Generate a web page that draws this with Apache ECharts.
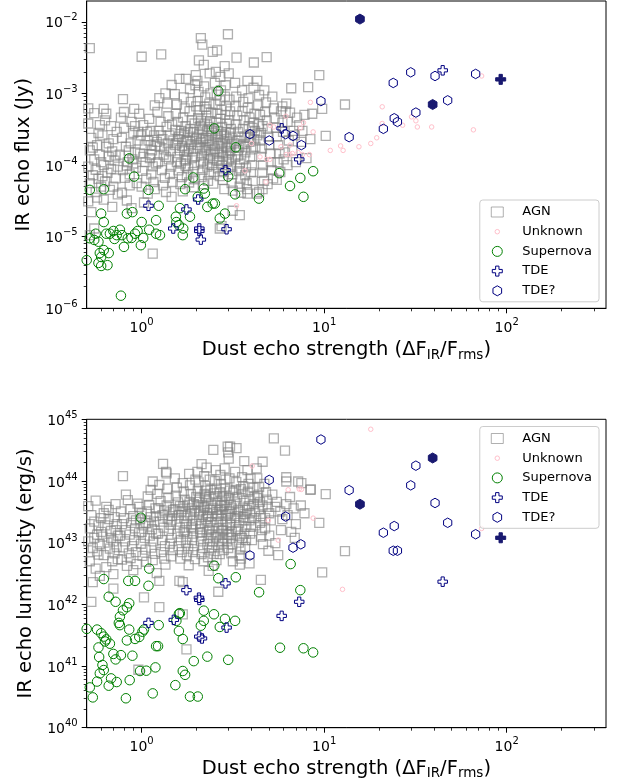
<!DOCTYPE html>
<html>
<head>
<meta charset="utf-8">
<script src="https://cdn.jsdelivr.net/npm/echarts@6/dist/echarts.min.js"></script>
<style>
html,body{margin:0;padding:0;background:#fff}
#chart{width:617px;height:783px}
</style>
</head>
<body>
<div id="chart"></div>
<script>
// ---- axis ranges and tick positions ----
const xRange = [0.5, 350];
const fluxRange = [1e-6, 0.0195];
const lumRange = [1e40, 1.000001e45];
const xTicks = [1, 10, 100];
const fluxTicks = [1e-6, 1e-5, 1e-4, 1e-3, 1e-2];
const lumTicks = [1e40, 1e41, 1e42, 1e43, 1e44, 1e45];
const legendNames = ['AGN', 'Unknown', 'Supernova', 'TDE', 'TDE?'];

// ---- IR echo flux (Jy) vs dust echo strength ----
const fluxAGN = [
[0.51,6.2e-4],[0.52,4.3e-3],[0.51,3.8e-4],[0.53,2.4e-4],[0.52,1.6e-4],[0.55,1.2e-4],[0.51,9.5e-5],[0.54,7.2e-5],[0.52,5.6e-5],[0.56,4.2e-5],[0.51,3.1e-5],[0.53,2.2e-5],[0.58,2.8e-4],[0.57,1.9e-4],[0.59,1.4e-4],[0.56,8.6e-5],[0.58,6.4e-5],[0.6,5.0e-5],[0.57,3.5e-5],[0.55,1.3e-5],[0.52,1.05e-5],[0.59,3.6e-4],[0.6,1.1e-4],[0.55,5.3e-4],[0.54,1.75e-4],
[0.62,6.1e-4],[0.63,4.2e-4],[0.61,2.6e-4],[0.64,1.8e-4],[0.66,1.3e-4],[0.62,1.0e-4],[0.65,7.8e-5],[0.63,5.9e-5],[0.67,4.5e-5],[0.62,3.3e-5],[0.68,3.5e-4],[0.7,2.3e-4],[0.69,1.55e-4],[0.71,1.15e-4],[0.68,8.8e-5],[0.72,6.5e-5],[0.7,5.0e-5],[0.74,3.9e-5],[0.73,2.9e-4],[0.66,2.0e-4],[0.72,1.35e-4],[0.64,5.2e-4],[0.74,9.5e-5],[0.61,7.0e-5],[0.69,2.6e-5],
[0.79,8.3e-4],[0.77,4.6e-4],[0.8,3.3e-4],[0.78,2.4e-4],[0.82,1.8e-4],[0.76,1.4e-4],[0.84,1.1e-4],[0.79,8.5e-5],[0.81,6.6e-5],[0.86,5.2e-5],[0.78,4.1e-5],[0.83,3.2e-5],[0.88,4.0e-4],[0.9,2.8e-4],[0.87,2.0e-4],[0.92,1.5e-4],[0.89,1.2e-4],[0.93,9.2e-5],[0.86,7.4e-5],[0.91,6.1e-4],[0.94,5.6e-5],[0.85,1.6e-4],[0.8,5.5e-4],[0.92,3.5e-4],[0.88,2.5e-5],[0.95,2.2e-4],[0.83,9.8e-5],[0.9,1.05e-4],
[1.0,3.25e-3],[0.97,5.2e-4],[1.02,3.6e-4],[0.99,2.6e-4],[1.04,1.9e-4],[0.98,1.45e-4],[1.05,1.1e-4],[1.01,8.3e-5],[1.06,6.5e-5],[1.0,5.0e-5],[1.08,4.0e-5],[1.1,4.4e-4],[1.12,3.0e-4],[1.09,2.2e-4],[1.14,1.6e-4],[1.11,1.25e-4],[1.15,9.6e-5],[1.13,7.4e-5],[1.16,5.8e-5],[1.18,6.8e-4],[1.17,2.6e-4],[1.19,1.85e-4],[1.15,5.8e-6],[1.03,3.0e-5],[1.12,1.4e-4],[1.07,2.9e-4],[1.2,1.05e-4],[1.18,4.6e-5],
[1.28,3.5e-3],[1.46,1.31e-3],[1.25,8.6e-4],[1.22,5.5e-4],[1.27,4.0e-4],[1.24,3.0e-4],[1.3,2.3e-4],[1.26,1.8e-4],[1.32,1.4e-4],[1.23,1.1e-4],[1.29,8.5e-5],[1.34,6.6e-5],[1.31,5.2e-5],[1.36,4.2e-5],[1.38,7.2e-4],[1.4,4.8e-4],[1.37,3.4e-4],[1.42,2.6e-4],[1.39,2.0e-4],[1.44,1.55e-4],[1.41,1.2e-4],[1.45,9.5e-5],[1.43,7.5e-5],[1.48,5.8e-5],[1.35,1.0e-3],[1.47,3.7e-4],[1.33,1.65e-4],[1.49,2.2e-4],[1.21,2.1e-4],[1.46,3.6e-5],
[1.61,1.6e-3],[1.75,1.6e-3],[1.98,1.8e-3],[1.52,9.8e-4],[1.56,7.0e-4],[1.54,5.2e-4],[1.58,4.0e-4],[1.53,3.1e-4],[1.6,2.5e-4],[1.55,2.0e-4],[1.62,1.6e-4],[1.57,1.3e-4],[1.64,1.05e-4],[1.59,8.4e-5],[1.66,6.8e-5],[1.63,5.4e-5],[1.68,4.3e-5],[1.7,8.8e-4],[1.72,6.2e-4],[1.69,4.6e-4],[1.74,3.5e-4],[1.71,2.8e-4],[1.76,2.2e-4],[1.73,1.75e-4],[1.78,1.4e-4],[1.75,1.15e-4],[1.8,9.0e-5],[1.77,7.2e-5],[1.82,5.7e-5],[1.84,1.15e-3],[1.86,7.6e-4],[1.83,5.6e-4],[1.88,4.2e-4],[1.85,3.2e-4],[1.9,2.5e-4],[1.87,1.95e-4],[1.92,1.55e-4],[1.89,1.25e-4],[1.94,1.0e-4],[1.91,8.0e-5],[1.96,6.3e-5],[1.93,4.9e-5],[1.97,1.3e-3],[1.99,6.6e-4],[1.95,3.8e-4],[1.98,2.3e-4],[1.65,3.0e-4],[1.79,2.9e-4],[1.58,2.3e-4],[1.67,1.85e-4],[1.81,1.7e-4],[1.72,1.2e-4],
[2.06,2.9e-3],[2.11,5.9e-3],[2.15,4.8e-3],[2.19,2.5e-3],[2.45,3.8e-3],[2.02,1.5e-3],[2.05,1.05e-3],[2.03,7.8e-4],[2.08,5.8e-4],[2.04,4.5e-4],[2.1,3.5e-4],[2.07,2.7e-4],[2.12,2.1e-4],[2.09,1.7e-4],[2.14,1.35e-4],[2.11,1.1e-4],[2.16,8.6e-5],[2.13,6.8e-5],[2.18,5.4e-5],[2.2,1.25e-3],[2.23,8.8e-4],[2.21,6.5e-4],[2.26,4.9e-4],[2.22,3.8e-4],[2.28,3.0e-4],[2.25,2.4e-4],[2.3,1.9e-4],[2.27,1.5e-4],[2.32,1.2e-4],[2.29,9.5e-5],[2.34,7.6e-5],[2.31,6.0e-5],[2.36,1.9e-3],[2.38,1.0e-3],[2.35,7.2e-4],[2.4,5.4e-4],[2.37,4.1e-4],[2.42,3.2e-4],[2.39,2.6e-4],[2.44,2.0e-4],[2.41,1.6e-4],[2.46,1.25e-4],[2.43,1.0e-4],[2.48,8.0e-5],[2.47,5.5e-5],[2.33,3.4e-4],[2.17,2.3e-4],[2.24,1.75e-4],[2.01,2.4e-4],[2.12,4.1e-4],
[2.59,4.0e-3],[2.97,6.7e-3],[2.55,2.0e-3],[2.52,1.4e-3],[2.58,9.6e-4],[2.54,7.0e-4],[2.6,5.2e-4],[2.56,3.9e-4],[2.62,3.0e-4],[2.57,2.35e-4],[2.64,1.85e-4],[2.6,1.45e-4],[2.66,1.15e-4],[2.63,9.0e-5],[2.68,7.0e-5],[2.7,1.7e-3],[2.72,1.1e-3],[2.69,8.0e-4],[2.74,5.9e-4],[2.71,4.4e-4],[2.76,3.4e-4],[2.73,2.7e-4],[2.78,2.1e-4],[2.75,1.65e-4],[2.8,1.3e-4],[2.77,1.0e-4],[2.82,8.0e-5],[2.79,6.2e-5],[2.85,2.4e-3],[2.88,1.3e-3],[2.86,9.0e-4],[2.9,6.6e-4],[2.87,5.0e-4],[2.92,3.8e-4],[2.89,2.9e-4],[2.94,2.3e-4],[2.91,1.8e-4],[2.96,1.4e-4],[2.93,1.1e-4],[2.98,8.6e-5],[3.0,1.9e-3],[3.03,8.2e-4],[3.05,5.6e-4],[3.02,4.2e-4],[3.08,3.2e-4],[3.04,2.5e-4],[3.1,1.95e-4],[3.06,1.55e-4],[3.12,1.2e-4],[3.09,9.4e-5],[3.14,7.4e-5],[3.11,5.6e-5],[3.16,4.4e-5],[3.15,2.3e-5],[2.84,4.6e-5],
[3.31,3.15e-3],[4.12,2.7e-3],[3.25,1.4e-3],[3.3,9.0e-4],[3.28,6.6e-4],[3.34,4.9e-4],[3.3,3.7e-4],[3.38,2.9e-4],[3.35,2.2e-4],[3.42,1.75e-4],[3.38,1.35e-4],[3.45,1.05e-4],[3.41,8.2e-5],[3.48,6.4e-5],[3.44,5.0e-5],[3.55,1.1e-3],[3.6,7.6e-4],[3.57,5.6e-4],[3.63,4.2e-4],[3.59,3.2e-4],[3.66,2.5e-4],[3.62,1.95e-4],[3.7,1.5e-4],[3.65,1.2e-4],[3.73,9.3e-5],[3.69,7.2e-5],[3.76,5.6e-5],[3.8,1.5e-3],[3.85,8.6e-4],[3.82,6.3e-4],[3.9,4.6e-4],[3.86,3.5e-4],[3.94,2.7e-4],[3.9,2.1e-4],[3.98,1.65e-4],[3.93,1.3e-4],[4.02,1.0e-4],[3.97,7.9e-5],[4.06,6.0e-5],[4.1,1.2e-3],[4.15,5.2e-4],[4.12,3.9e-4],[4.18,3.0e-4],[4.14,2.3e-4],[3.5,4.1e-5],[3.78,4.6e-5],[4.2,1.8e-4],
[4.84,3.2e-3],[4.3,1.5e-3],[4.4,9.5e-4],[4.35,6.8e-4],[4.45,5.0e-4],[4.4,3.7e-4],[4.5,2.8e-4],[4.46,2.2e-4],[4.56,1.7e-4],[4.52,1.3e-4],[4.62,1.0e-4],[4.58,7.8e-5],[4.68,6.0e-5],[4.7,1.1e-3],[4.8,7.5e-4],[4.75,5.5e-4],[4.85,4.2e-4],[4.9,3.2e-4],[4.95,2.5e-4],[5.0,1.9e-4],[5.05,1.45e-4],[5.1,1.1e-4],[5.15,8.5e-5],[5.2,9.0e-4],[5.3,6.2e-4],[5.35,4.5e-4],[5.45,3.3e-4],[5.5,2.5e-4],[5.6,1.9e-4],[5.7,1.45e-4],[5.55,1.1e-4],[5.8,5.6e-4],[5.9,3.9e-4],[5.95,2.9e-4],[5.75,8.0e-5],[6.0,1.2e-4],[4.28,4.0e-5],[4.6,4.6e-5],[5.25,6.5e-5],[4.9,5.4e-5],
[6.6,1.18e-3],[8.17,1.22e-3],[9.4,1.8e-3],[9.75,6.1e-4],[13.0,7.0e-4],[10.2,2.55e-4],[8.4,2.3e-4],[7.5,2.1e-4],[6.2,7.2e-4],[6.5,5.4e-4],[6.3,4.0e-4],[6.8,3.0e-4],[7.1,4.6e-4],[6.4,2.2e-4],[6.7,1.6e-4],[7.3,3.6e-4],[7.8,5.0e-4],[6.1,1.5e-4],[6.9,2.6e-4],[8.0,1.25e-4],[6.3,1.0e-4],[7.0,1.1e-4],[7.6,3.0e-4],[8.6,5.2e-4],[6.15,5.6e-4],[5.9,6.6e-4],
[2.68,1.3e-5],[3.45,2.0e-5],[2.74,1.4e-5],[5.5,6.2e-5],[4.4,4.2e-5],[3.8,4.0e-5],
[1.52,1.9e-4],[1.63,2.7e-4],[1.71,1.55e-4],[1.84,2.1e-4],[1.93,2.9e-4],[2.02,1.9e-4],[2.15,3.2e-4],[2.21,1.6e-4],[2.34,2.2e-4],[2.44,2.8e-4],[2.52,1.7e-4],[2.61,2.5e-4],[2.7,2.0e-4],[2.83,2.6e-4],[2.95,1.75e-4],[3.07,2.8e-4],[3.2,2.0e-4],[3.36,1.6e-4],[3.52,2.5e-4],[3.68,1.8e-4],[1.56,1.1e-4],[1.74,9.8e-5],[1.96,1.3e-4],[2.18,1.05e-4],[2.38,1.4e-4],[2.58,1.15e-4],[2.78,1.5e-4],[3.0,1.2e-4],[3.25,1.3e-4],[3.46,9.0e-5],[1.28,2.6e-4],[1.36,1.3e-4],[1.12,1.9e-4],[1.02,1.3e-4],[0.96,2.9e-4],[3.85,2.4e-4],[4.05,3.3e-4],[4.3,2.6e-4],[4.6,3.5e-4],[2.26,6.0e-4]
];
const fluxUnknown = [
[72.9,1.75e-3],[8.4,7.5e-4],[20.8,6.5e-4],[30.1,4.7e-4],[31.8,4.15e-4],[32.4,3.4e-4],[26.9,3.6e-4],[20.8,3.8e-4],[38.8,3.4e-4],[65.7,3.1e-4],[19.4,2.4e-4],[18.0,2.0e-4],[15.5,1.8e-4],[12.3,1.85e-4],[12.7,1.6e-4],[10.8,1.6e-4],[8.7,2.9e-4],[7.7,3.9e-4],[7.4,3.3e-4],[8.3,1.4e-4],[7.6,1.4e-4],[6.17,4.8e-4],[5.04,3.6e-4],[5.3,3.4e-4],[4.0,2.0e-4],[5.8,1.8e-4],[6.5,1.9e-4],[6.7,1.45e-4],[7.2,1.5e-4],[4.45,1.3e-4],[4.84,1.2e-4],[4.8,5.8e-5],[3.68,8.3e-5],[3.31,2.7e-5],[6.2,1.4e-4],[5.04,1.2e-4],[6.5,1.4e-4]
];
const fluxSupernova = [
[2.63,1.08e-3],[2.5,3.25e-4],[3.28,1.77e-4],[0.855,1.24e-4],[0.91,6.9e-5],[1.92,6.7e-5],[2.98,6.9e-5],[0.52,4.5e-5],[0.62,4.6e-5],[1.09,4.5e-5],[1.73,4.6e-5],[2.19,4.7e-5],[2.22,4.0e-5],[2.03,3.6e-5],[3.25,3.9e-5],[4.39,3.4e-5],[2.52,2.9e-5],[2.29,2.6e-5],[1.62,2.5e-5],[1.24,2.7e-5],[0.6,2.1e-5],[0.83,2.1e-5],[0.89,2.2e-5],[1.54,1.9e-5],[1.84,1.9e-5],[2.86,2.1e-5],[2.68,1.8e-5],[0.62,1.6e-5],[1.0,1.6e-5],[1.2,1.7e-5],[1.55,1.6e-5],[1.6,1.45e-5],[1.69,1.3e-5],[0.52,9.5e-6],[0.55,9e-6],[0.64,1.1e-5],[0.67,1.1e-5],[0.7,1.2e-5],[0.73,1.05e-5],[0.76,1.25e-5],[0.78,1.05e-5],[0.88,9.6e-6],[0.92,1.1e-5],[0.95,1.2e-5],[1.02,9.6e-6],[0.99,7.6e-6],[1.1,1.25e-5],[1.2,1.1e-5],[1.26,1.05e-5],[1.68,1.05e-5],[0.8,7.2e-6],[0.84,9.5e-6],[0.71,9.3e-6],[0.59,5.9e-6],[0.66,5.9e-6],[0.6,5.2e-6],[0.58,4.3e-6],[0.65,4.0e-6],[0.6,3.9e-6],[0.5,4.7e-6],[0.77,1.5e-6],[5.67,7.7e-5],[6.5,5.1e-5],[7.4,6.6e-5],[7.7,3.6e-5],[8.7,8.2e-5],[2.45,2.9e-5],[0.62,6.5e-6],[0.56,1.1e-5],[0.58,8.5e-6]
];
const fluxTDE = [
[5.85,3.25e-4],[7.3,1.2e-4],[2.88,8.5e-5],[2.04,3.3e-5],[1.76,2.4e-5],[1.09,2.7e-5],[1.49,1.3e-5],[2.07,1.3e-5],[2.07,1.2e-5],[2.11,9.1e-6],[2.92,1.27e-5],[44.6,2.1e-3]
];
const fluxTDEFilled = [[92.7,1.57e-3]];
const fluxTDEq = [
[29.8,1.97e-3],[40.5,1.75e-3],[67.6,1.87e-3],[23.9,1.4e-3],[9.6,7.8e-4],[47.5,8.0e-4],[31.8,5.4e-4],[24.2,4.5e-4],[25.2,4.0e-4],[21.1,3.2e-4],[13.7,2.45e-4],[7.5,1.9e-4],[3.92,2.7e-4],[5.0,2.2e-4],[6.15,2.7e-4],[6.75,2.55e-4]
];
const fluxTDEqFilled = [[15.7,1.09e-2],[39.3,7.0e-4]];

// ---- IR echo luminosity (erg/s) vs dust echo strength ----
const lumAGN = [
[0.56,4.8e43],[0.51,3.9e43],[0.53,2.8e43],[0.55,2.2e43],[0.52,1.7e43],[0.57,1.35e43],[0.51,1.05e43],[0.54,8.2e42],[0.58,6.4e42],[0.52,5.0e42],[0.56,3.8e42],[0.59,2.9e42],[0.54,2.3e42],[0.53,1.1e42],[0.58,1.9e43],[0.6,1.5e43],[0.55,1.2e43],[0.59,9.5e42],[0.57,7.2e42],[0.6,2.5e43],
[0.64,3.8e43],[0.62,3.0e43],[0.66,2.4e43],[0.63,1.9e43],[0.68,1.55e43],[0.61,1.25e43],[0.65,1.0e43],[0.67,8.0e42],[0.62,6.3e42],[0.69,5.0e42],[0.64,4.0e42],[0.7,3.1e42],[0.7,1.8e42],[0.71,2.6e43],[0.73,2.0e43],[0.72,1.6e43],[0.74,1.3e43],[0.7,1.05e43],[0.73,8.5e42],[0.71,6.7e42],[0.74,5.4e42],[0.66,3.4e43],[0.72,4.2e43],[0.68,1.2e43],
[0.79,1.2e44],[0.84,4.9e43],[0.77,3.2e43],[0.8,2.5e43],[0.78,2.0e43],[0.82,1.6e43],[0.76,1.3e43],[0.81,1.05e43],[0.79,8.4e42],[0.85,6.7e42],[0.78,5.3e42],[0.83,4.2e42],[0.87,3.5e43],[0.9,2.7e43],[0.88,2.1e43],[0.92,1.7e43],[0.86,1.35e43],[0.91,1.1e43],[0.89,8.8e42],[0.93,7.0e42],[0.87,5.6e42],[0.94,4.5e42],[0.9,3.6e42],[0.95,4.3e43],[0.82,6.0e43],[0.93,2.3e43],
[1.03,1.3e42],[1.15,9.8e43],[1.12,7.2e43],[0.97,3.8e43],[1.0,3.0e43],[0.98,2.4e43],[1.02,1.9e43],[1.0,1.5e43],[1.04,1.2e43],[0.99,9.6e42],[1.05,7.7e42],[1.01,6.1e42],[1.06,4.9e42],[1.08,5.6e43],[1.1,4.1e43],[1.07,3.2e43],[1.12,2.6e43],[1.09,2.05e43],[1.14,1.65e43],[1.11,1.3e43],[1.16,1.05e43],[1.13,8.3e42],[1.18,6.6e42],[1.15,5.2e42],[1.19,3.6e43],[1.17,2.2e43],[1.2,1.4e43],[0.96,8.7e40],
[1.25,8.6e43],[1.31,1.9e44],[1.37,1.33e44],[1.36,1.4e44],[1.25,2.4e42],[1.25,9e41],[1.22,6.2e43],[1.27,4.7e43],[1.24,3.6e43],[1.3,2.8e43],[1.26,2.2e43],[1.32,1.75e43],[1.23,1.4e43],[1.29,1.1e43],[1.34,8.8e42],[1.28,7.0e42],[1.33,5.5e42],[1.35,4.4e42],[1.38,7.5e43],[1.4,5.3e43],[1.37,4.0e43],[1.42,3.1e43],[1.39,2.45e43],[1.44,1.95e43],[1.41,1.55e43],[1.46,1.2e43],[1.43,9.6e42],[1.48,7.6e42],[1.45,6.0e42],[1.49,3.4e43],[1.47,2.7e43],[1.21,3.2e42],
[1.68,9.2e43],[1.68,2.3e42],[1.68,6.9e41],[1.76,1.86e41],[1.52,1.1e44],[1.56,7.8e43],[1.54,5.8e43],[1.58,4.5e43],[1.53,3.5e43],[1.6,2.8e43],[1.55,2.2e43],[1.62,1.75e43],[1.57,1.4e43],[1.64,1.1e43],[1.59,8.8e42],[1.66,7.0e42],[1.63,5.5e42],[1.7,6.8e43],[1.72,5.0e43],[1.69,3.9e43],[1.74,3.1e43],[1.71,2.5e43],[1.76,2.0e43],[1.73,1.6e43],[1.78,1.25e43],[1.75,1.0e43],[1.8,8.0e42],[1.77,6.3e42],[1.82,1.3e44],[1.84,8.5e43],[1.86,6.2e43],[1.83,4.6e43],[1.88,3.6e43],[1.85,2.85e43],[1.9,2.25e43],[1.87,1.8e43],[1.92,1.4e43],[1.89,1.1e43],[1.94,8.8e42],[1.91,7.0e42],[1.96,5.4e42],[1.97,1.05e44],[1.99,5.5e43],[1.95,3.3e43],[1.98,2.0e43],[1.65,3.2e43],[1.79,4.1e43],[1.61,2.4e42],[1.81,4.3e42],
[2.13,1.87e44],[2.27,1.65e44],[2.47,3.2e44],[2.02,1.4e44],[2.05,9.5e43],[2.03,7.0e43],[2.08,5.3e43],[2.04,4.1e43],[2.1,3.3e43],[2.07,2.6e43],[2.12,2.05e43],[2.09,1.65e43],[2.14,1.3e43],[2.11,1.05e43],[2.16,8.2e42],[2.13,6.5e42],[2.18,5.0e42],[2.2,1.2e44],[2.23,8.3e43],[2.21,6.2e43],[2.26,4.8e43],[2.22,3.8e43],[2.28,3.0e43],[2.25,2.4e43],[2.3,1.9e43],[2.27,1.5e43],[2.32,1.2e43],[2.29,9.5e42],[2.34,7.5e42],[2.31,5.8e42],[2.36,1.05e44],[2.38,7.2e43],[2.35,5.5e43],[2.4,4.3e43],[2.37,3.4e43],[2.42,2.7e43],[2.39,2.15e43],[2.44,1.7e43],[2.41,1.35e43],[2.46,1.05e43],[2.43,8.4e42],[2.48,6.6e42],[2.33,3.5e42],[2.17,2.8e43],[2.06,4.6e43],[2.24,5.6e43],[2.45,4.2e42],
[2.96,3.6e44],[3.05,3.6e44],[2.98,2.9e44],[2.63,1.6e42],[2.57,5.2e42],[2.55,1.5e44],[2.52,1.0e44],[2.58,7.5e43],[2.54,5.7e43],[2.6,4.4e43],[2.56,3.4e43],[2.62,2.7e43],[2.57,2.15e43],[2.64,1.7e43],[2.6,1.35e43],[2.66,1.05e43],[2.63,8.4e42],[2.68,6.5e42],[2.7,1.25e44],[2.72,8.8e43],[2.69,6.6e43],[2.74,5.0e43],[2.71,3.9e43],[2.76,3.1e43],[2.73,2.45e43],[2.78,1.95e43],[2.75,1.55e43],[2.8,1.2e43],[2.77,9.6e42],[2.82,7.6e42],[2.85,1.6e44],[2.88,1.05e44],[2.86,7.6e43],[2.9,5.8e43],[2.87,4.5e43],[2.92,3.5e43],[2.89,2.75e43],[2.94,2.15e43],[2.91,1.7e43],[2.96,1.35e43],[2.93,1.05e43],[2.98,8.2e42],[3.0,2.3e44],[3.03,1.1e44],[3.05,7.0e43],[3.02,5.3e43],[3.08,4.1e43],[3.04,3.2e43],[3.1,2.5e43],[3.06,1.95e43],[3.12,1.5e43],[3.09,1.2e43],[3.14,9.4e42],[3.1,6.7e42],[3.16,5.0e42],
[3.31,3.4e44],[3.65,2.1e44],[3.45,4.4e42],[3.9,4.6e42],[3.25,1.4e44],[3.3,9.6e43],[3.28,7.2e43],[3.34,5.5e43],[3.3,4.3e43],[3.38,3.4e43],[3.35,2.7e43],[3.42,2.1e43],[3.38,1.65e43],[3.45,1.3e43],[3.41,1.0e43],[3.48,8.0e42],[3.44,6.2e42],[3.55,1.15e44],[3.6,8.2e43],[3.57,6.2e43],[3.63,4.8e43],[3.59,3.7e43],[3.66,2.9e43],[3.62,2.3e43],[3.7,1.8e43],[3.65,1.4e43],[3.73,1.1e43],[3.69,8.5e42],[3.8,1.5e44],[3.85,9.0e43],[3.82,6.7e43],[3.9,5.1e43],[3.86,3.9e43],[3.94,3.0e43],[3.9,2.3e43],[3.98,1.8e43],[3.93,1.4e43],[4.02,1.1e43],[4.1,7.8e43],[4.15,5.6e43],[4.12,4.2e43],[4.18,3.2e43],[4.14,2.5e43],[4.2,1.9e43],[3.5,5.5e42],
[5.3,4.9e44],[6.1,3.1e44],[4.6,2.05e44],[4.27,1.6e44],[6.2,1.15e44],[4.5,2.5e42],[4.3,1.1e44],[4.4,8.0e43],[4.35,6.0e43],[4.45,4.6e43],[4.4,3.5e43],[4.5,2.7e43],[4.46,2.1e43],[4.56,1.6e43],[4.52,1.25e43],[4.62,9.5e42],[4.7,9.0e43],[4.8,6.6e43],[4.75,2.5e43],[4.75,1.7e43],[4.85,5.0e43],[4.9,3.8e43],[5.0,3.0e43],[5.1,2.3e43],[5.2,6.0e43],[5.4,3.8e43],[5.75,3.2e43],[5.8,1.6e43],[5.4,9.8e42],[5.6,6.3e42],[5.5,4.6e43],[5.9,2.4e43],[6.2,9.8e43],[5.0,1.3e43],[4.95,7.4e42],
[7.2,9.8e43],[7.5,9.2e43],[8.45,7.3e43],[10.2,6.1e43],[7.45,4.0e43],[9.4,2.1e43],[9.75,3.3e42],[13.0,7.3e42],[8.4,7.2e43],[6.5,5.5e43],[6.8,3.6e43],[6.3,2.8e43],[7.0,2.0e43],[6.6,1.5e43],[6.2,4.2e43],[7.8,3.0e43],[6.9,1.2e43],
[1.62,3.9e43],[1.78,2.7e43],[1.93,4.2e43],[2.06,3.1e43],[2.19,3.7e43],[2.31,2.6e43],[2.45,3.6e43],[2.58,2.9e43],[2.7,3.4e43],[2.83,4.0e43],[2.97,2.9e43],[3.12,3.6e43],[3.27,2.5e43],[3.44,3.2e43],[3.6,2.6e43],[3.78,3.4e43],[1.7,1.5e43],[1.9,1.7e43],[2.1,1.45e43],[2.35,1.6e43],[2.55,1.25e43],[2.8,1.6e43],[3.02,1.35e43],[3.3,1.55e43],[3.55,1.2e43],[1.46,2.3e43],[1.33,3.3e43],[1.2,2.7e43],[1.06,2.1e43],[0.97,1.45e43],[2.25,7.0e43],[2.5,6.3e43],[2.77,5.7e43],[3.17,6.5e43],[3.5,7.4e43],[3.95,1.1e44],[4.3,5.3e43],[4.6,4.0e43]
];
const lumUnknown = [
[18.0,6.9e44],[12.6,1.75e42],[8.7,2.5e43],[72.9,1.7e43],[7.5,7.3e43],[4.03,1.75e44],[4.94,2.3e43],[5.6,1.1e43],[6.35,7.2e43],[7.3,7.4e43]
];
const lumSupernova = [
[0.99,2.54e43],[2.5,4.24e42],[1.1,3.8e42],[6.55,4.5e42],[0.62,2.57e42],[0.845,2.4e42],[0.92,2.4e42],[2.63,2.65e42],[3.28,2.75e42],[1.09,2.0e42],[4.4,1.57e42],[7.4,1.7e42],[0.66,1.33e42],[0.72,1.1e42],[0.855,1.04e42],[0.83,9e41],[0.79,8e41],[0.76,6.3e41],[0.75,5e41],[0.76,4.6e41],[1.62,7.2e41],[2.19,7.9e41],[2.49,6.9e41],[2.86,5.8e41],[3.25,5.4e41],[2.68,4.3e41],[2.19,5.4e41],[2.11,4.5e41],[1.24,4.6e41],[1.6,3.7e41],[1.68,2.74e41],[0.5,4e41],[0.57,3.9e41],[0.6,3.4e41],[0.62,3.0e41],[0.63,2.5e41],[0.64,2.7e41],[0.67,2.3e41],[0.58,2.0e41],[0.585,1.4e41],[0.61,1.04e41],[0.62,8.6e40],[0.59,7.6e40],[0.57,5.6e40],[0.52,4.5e40],[0.54,3.1e40],[0.66,4.8e40],[0.73,5.5e40],[0.68,6.3e40],[0.72,1.28e41],[0.7,1.57e41],[0.77,1.5e41],[0.89,1.47e41],[0.86,5.9e40],[0.82,3.0e40],[0.98,8.3e40],[1.06,8.4e40],[1.19,9.5e40],[1.2,2.1e41],[1.23,2.1e41],[1.15,3.6e40],[1.53,4.9e40],[1.68,8.3e40],[1.73,7.2e40],[1.84,3.2e40],[2.03,3.2e40],[1.93,1.2e41],[2.29,1.42e41],[2.98,1.26e41],[1.55,5.4e41],[1.6,7e41],[0.97,2.96e41],[1.03,3.9e41],[1.01,3.6e41],[0.92,2.75e41],[0.83,2.6e41],[0.855,3.9e41],[5.73,1.98e41],[7.7,1.94e41],[8.7,1.66e41]
];
const lumTDE = [
[44.6,2.33e42],[2.88,2.19e42],[1.76,1.7e42],[2.06,1.28e42],[2.07,1.18e42],[7.3,1.1e42],[5.85,6.5e41],[1.09,5e41],[1.5,5.6e41],[2.92,4.2e41],[2.07,3.0e41],[2.14,2.8e41]
];
const lumTDEFilled = [[92.7,1.2e43]];
const lumTDEq = [
[9.6,4.7e44],[31.8,1.77e44],[13.7,7.1e43],[29.8,8.5e43],[40.5,4.4e43],[47.5,2.1e43],[24.2,1.86e43],[21.1,1.45e43],[67.6,1.37e43],[23.9,7.4e42],[25.2,7.4e42],[7.45,9.4e42],[6.75,8.3e42],[5.0,1.04e44],[6.15,2.65e43],[3.92,6.2e42]
];
const lumTDEqFilled = [[39.3,2.36e44],[15.7,4.2e43]];

// ---- marker shapes ----
const PLUS = 'path://M1,0L2,0L2,1L3,1L3,2L2,2L2,3L1,3L1,2L0,2L0,1L1,1Z';
const HEX = 'path://M50,0L93.3,25L93.3,75L50,100L6.7,75L6.7,25Z';
const SMALL_RING = 'path://M0,0M20,20M14.5,10A4.5,4.5,0,1,1,5.5,10A4.5,4.5,0,1,1,14.5,10Z';
const FONT = 'DejaVu Sans';

const styles = {
  AGN:       { symbol: 'rect', symbolSize: 9, stroke: 'rgba(128,128,128,0.62)', fill: 'rgba(0,0,0,0)', width: 1.3 },
  Unknown:   { symbol: 'circle', symbolSize: 4.5, stroke: '#ffc0cb', fill: 'rgba(0,0,0,0)', width: 1 },
  Supernova: { symbol: 'circle', symbolSize: 9.5, stroke: '#008000', fill: 'rgba(0,0,0,0)', width: 1 },
  TDE:       { symbol: PLUS, symbolSize: 9.5, stroke: '#000080', fill: 'rgba(0,0,0,0)', width: 1 },
  'TDE?':    { symbol: HEX, symbolSize: 9.5, stroke: '#000080', fill: 'rgba(0,0,0,0)', width: 1 },
  tdeFilled: { symbol: PLUS, symbolSize: 10, stroke: '#191970', fill: '#191970', width: 1 },
  tdeqFilled:{ symbol: HEX, symbolSize: 10, stroke: '#191970', fill: '#191970', width: 1 }
};

function scatter(name, styleKey, data, idx) {
  const s = styles[styleKey];
  return {
    type: 'scatter', name: name, data: data,
    xAxisIndex: idx, yAxisIndex: idx,
    symbol: s.symbol, symbolSize: s.symbolSize, symbolKeepAspect: true,
    itemStyle: { color: s.fill, borderColor: s.stroke, borderWidth: s.width, opacity: 1 },
    emphasis: { disabled: true },
    silent: true
  };
}

function powLabel(v) {
  const e = Math.round(Math.log10(v));
  return '{b|10}{s|' + (e < 0 ? '\u2212' : '') + Math.abs(e) + '}';
}
const tickRich = {
  b: { fontFamily: FONT, fontSize: 14, lineHeight: 18, verticalAlign: 'bottom', color: '#000' },
  s: { fontFamily: FONT, fontSize: 10, lineHeight: 10, verticalAlign: 'top', color: '#000' }
};
const nameRich = {
  n: { fontFamily: FONT, fontSize: 19.5, lineHeight: 24, color: '#000' },
  u: { fontFamily: FONT, fontSize: 13.5, lineHeight: 14, verticalAlign: 'bottom', color: '#000' }
};

function logAxis(idx, range, ticks, extra) {
  return Object.assign({
    type: 'log', logBase: 10, gridIndex: idx, min: range[0], max: range[1],
    axisLine: { show: true, lineStyle: { color: '#000', width: 1 } },
    axisTick: { show: true, length: 5, customValues: ticks, lineStyle: { color: '#000', width: 1 } },
    minorTick: { show: true, splitNumber: 9, length: 3, lineStyle: { color: '#000', width: 0.8 } },
    axisLabel: { customValues: ticks, formatter: powLabel, margin: 9, rich: tickRich, color: '#000' },
    splitLine: { show: false },
    minorSplitLine: { show: false }
  }, extra);
}

const xName = '{n|Dust echo strength (\u0394F}{u|IR}{n|/F}{u|rms}{n|)}';

const option = {
  animation: false,
  backgroundColor: '#fff',
  textStyle: { fontFamily: FONT },
  grid: [
    { left: 86.7, top: 1, width: 519.3, height: 307.3, show: true, borderColor: '#000', borderWidth: 1, containLabel: false },
    { left: 86.7, top: 419.3, width: 519.3, height: 308.4, show: true, borderColor: '#000', borderWidth: 1, containLabel: false }
  ],
  xAxis: [
    logAxis(0, xRange, xTicks, { name: xName, nameLocation: 'middle', nameGap: 30, nameTextStyle: { rich: nameRich } }),
    logAxis(1, xRange, xTicks, { name: xName, nameLocation: 'middle', nameGap: 29, nameTextStyle: { rich: nameRich } })
  ],
  yAxis: [
    logAxis(0, fluxRange, fluxTicks, { name: 'IR echo flux (Jy)', nameLocation: 'middle', nameGap: 50,
      nameTextStyle: { fontFamily: FONT, fontSize: 19.5, color: '#000' } }),
    logAxis(1, lumRange, lumTicks, { name: 'IR echo luminosity (erg/s)', nameLocation: 'middle', nameGap: 51,
      nameTextStyle: { fontFamily: FONT, fontSize: 19.5, color: '#000' } })
  ],
  legend: [0, 1].map(function (i) {
    return {
      orient: 'vertical', right: 18, top: i === 0 ? 200 : 426.5,
      data: legendNames.map(function (n) { return n === 'Unknown' ? { name: n, icon: SMALL_RING } : n; }),
      selectedMode: false,
      itemWidth: 12, itemHeight: 10, itemGap: 5.7,
      padding: [5, 7, 4, 11],
      itemStyle: { borderWidth: 1 },
      backgroundColor: 'rgba(255,255,255,0.8)', borderColor: '#cccccc', borderWidth: 1, borderRadius: 3,
      textStyle: { fontFamily: FONT, fontSize: 13, color: '#000', lineHeight: 14, padding: [0, 0, 0, 14] }
    };
  }),
  series: [
    scatter('AGN', 'AGN', fluxAGN, 0),
    scatter('Unknown', 'Unknown', fluxUnknown, 0),
    scatter('Supernova', 'Supernova', fluxSupernova, 0),
    scatter('TDE', 'TDE', fluxTDE, 0),
    scatter('TDE?', 'TDE?', fluxTDEq, 0),
    scatter('TDE (highlighted)', 'tdeFilled', fluxTDEFilled, 0),
    scatter('TDE? (highlighted)', 'tdeqFilled', fluxTDEqFilled, 0),
    scatter('AGN', 'AGN', lumAGN, 1),
    scatter('Unknown', 'Unknown', lumUnknown, 1),
    scatter('Supernova', 'Supernova', lumSupernova, 1),
    scatter('TDE', 'TDE', lumTDE, 1),
    scatter('TDE?', 'TDE?', lumTDEq, 1),
    scatter('TDE (highlighted)', 'tdeFilled', lumTDEFilled, 1),
    scatter('TDE? (highlighted)', 'tdeqFilled', lumTDEqFilled, 1)
  ]
};

const chart = echarts.init(document.getElementById('chart'), null, { renderer: 'canvas', width: 617, height: 783 });
chart.setOption(option);
</script>
</body>
</html>
